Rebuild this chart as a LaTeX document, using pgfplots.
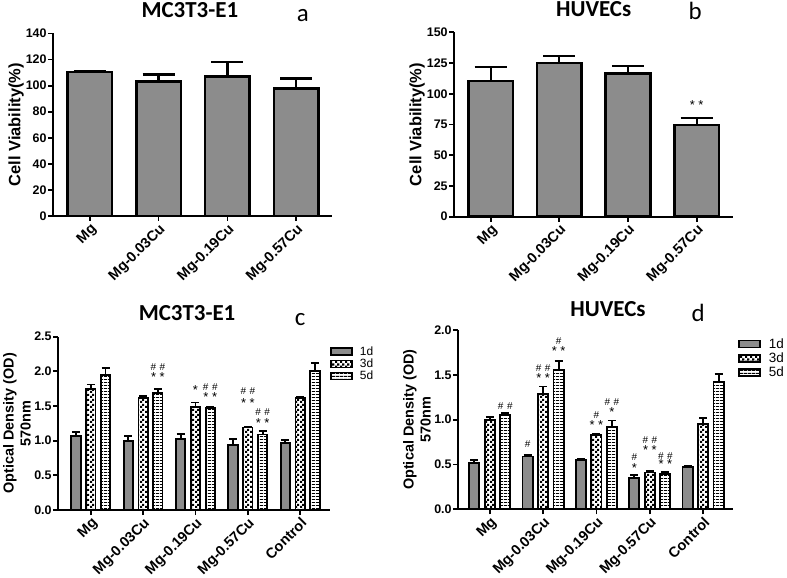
\documentclass[border=0pt]{standalone}
\usepackage{fontspec}
\setmainfont{Liberation Sans}
\newfontfamily\calibri{Carlito}
\usepackage{pgfplots}
\pgfplotsset{compat=1.18}
\usetikzlibrary{patterns}

% 3d: coarse checker, 5d: horizontal stripes
\pgfdeclarepatternformonly{bigcheck}{\pgfpointorigin}{\pgfpoint{5bp}{5bp}}{\pgfpoint{5bp}{5bp}}{
  \pgfpathrectangle{\pgfpointorigin}{\pgfpoint{2.5bp}{2.5bp}}
  \pgfpathrectangle{\pgfpoint{2.5bp}{2.5bp}}{\pgfpoint{2.5bp}{2.5bp}}
  \pgfusepath{fill}}
\pgfdeclarepatternformonly{hstripes}{\pgfpointorigin}{\pgfpoint{4bp}{3bp}}{\pgfpoint{4bp}{3bp}}{
  \pgfpathrectangle{\pgfpointorigin}{\pgfpoint{4bp}{1.3bp}}
  \pgfusepath{fill}}

\newcommand\sst{{\fontsize{13}{13}\selectfont *\hspace{3.5bp}*}}
\newcommand\st{{\fontsize{13}{13}\selectfont *}}
\newcommand\hh{\#\hspace{3.5bp}\#}

\tikzset{
  stat/.style={font=\fontsize{10}{10}\selectfont, inner sep=0pt},
  letter/.style={font=\calibri\fontsize{25}{26}\selectfont, anchor=base, inner sep=0pt},
}

\pgfplotsset{
  panel/.style={
    scale only axis, anchor=south west, clip=false,
    axis lines=left, axis line style={-, line width=2bp},
    tick style={black, line width=1.8bp}, tick align=outside,
    major tick length=5bp, ymin=0,
    /pgf/number format/assume math mode=true,
    yticklabel style={font=\fontsize{12.5}{13}\selectfont\bfseries, inner sep=1.5bp},
    xticklabel style={font=\fontsize{14.5}{15}\selectfont\bfseries,
      rotate=45, anchor=north east, inner sep=1bp},
    ylabel style={font=\fontsize{16.5}{18}\selectfont\bfseries, align=center},
    title style={font=\calibri\bfseries\fontsize{23}{24}\selectfont, anchor=base, inner sep=0pt},
    ybar,
  },
  onebar/.style={fill=black!45, draw=black, line width=2.6bp,
    error bars/.cd, y dir=plus, y explicit,
    error bar style={line width=2.2bp, black},
    error mark options={rotate=90, black, line width=2.2bp, mark size=16bp}},
  grp/.style={ybar=5.5bp, bar width=9.3bp,
    xmin=-0.62, xmax=4.57, xtick={0,1,2,3,4},
    xticklabels={Mg,Mg-0.03Cu,Mg-0.19Cu,Mg-0.57Cu,Control},
    ylabel={Optical Density (OD)\\570nm}, ylabel shift=-1.5bp,
    ylabel style={font=\fontsize{14.5}{17}\selectfont\bfseries},
    legend cell align=left,
    legend style={draw=none, fill=none, anchor=north west, inner sep=0pt,
      font=\fontsize{12}{13}\selectfont, row sep=-2bp,
      /tikz/every odd column/.append style={column sep=5bp}}},
  boxleg/.style={legend image code/.code={
      \draw[##1, line width=1.8bp] (0bp,-3.5bp) rectangle (21bp,3.5bp);}},
  ebar/.style={error bars/.cd, y dir=plus, y explicit,
    error bar style={line width=1.8bp, black},
    error mark options={rotate=90, black, line width=1.8bp, mark size=4bp}},
  d1/.style={fill=black!45, draw=black, line width=1.8bp, boxleg, ebar},
  d3/.style={pattern=bigcheck, draw=black, line width=1.8bp, boxleg, ebar},
  d5/.style={pattern=hstripes, draw=black, line width=1.8bp, boxleg, ebar},
}

\begin{document}
\begin{tikzpicture}
\useasboundingbox (0,0) rectangle (787bp,578bp);

% ---------- a ----------
\begin{axis}[panel, at={(53.3bp,362bp)}, width=278.7bp, height=182.5bp,
  xmin=-0.53, xmax=3.52, ymax=140, ytick={0,20,...,140},
  xtick={0,1,2,3}, xticklabels={Mg,Mg-0.03Cu,Mg-0.19Cu,Mg-0.57Cu},
  bar width=44.5bp, ylabel={Cell Viability(\%)}, ylabel shift=-3bp,
  title={MC3T3-E1}, title style={at={(axis description cs:0.49,1)}, yshift=10bp}]
\addplot[onebar] coordinates {(0,110.5) +- (0,1) (1,103) +- (0,5.5) (2,107) +- (0,11) (3,98) +- (0,7.5)};
\node[letter] at (axis description cs:0.895,1) [yshift=12bp] {a};
\end{axis}

% ---------- b ----------
\begin{axis}[panel, at={(454.3bp,361.3bp)}, width=278.7bp, height=184.4bp,
  xmin=-0.53, xmax=3.53, ymax=150, ytick={0,25,...,150},
  xtick={0,1,2,3}, xticklabels={Mg,Mg-0.03Cu,Mg-0.19Cu,Mg-0.57Cu},
  bar width=44.5bp, ylabel={Cell Viability(\%)}, ylabel shift=-3bp,
  title={HUVECs}, title style={at={(axis description cs:0.5,1)}, yshift=10bp}]
\addplot[onebar] coordinates {(0,110.5) +- (0,11) (1,125) +- (0,6) (2,116.5) +- (0,6) (3,74.5) +- (0,6)};
\node[stat] at (axis cs:3,90.5) {\sst};
\node[letter] at (axis description cs:0.864,1) [yshift=12.3bp] {b};
\end{axis}

% ---------- c ----------
\begin{axis}[panel, grp, at={(58.3bp,68bp)}, width=271.7bp, height=173.3bp,
  ymax=2.5, ytick={0,0.5,...,2.5},
  yticklabel style={/pgf/number format/.cd, fixed, fixed zerofill, precision=1},
  legend style={at={(axis description cs:1.0,0.955)}},
  title={MC3T3-E1}, title style={at={(axis description cs:0.474,1)}, yshift=10bp}]
\addplot[d1] coordinates {(0,1.07) +- (0,0.06) (1,1.0) +- (0,0.07) (2,1.03) +- (0,0.07) (3,0.94) +- (0,0.09) (4,0.97) +- (0,0.04)};
\addplot[d3] coordinates {(0,1.75) +- (0,0.06) (1,1.62) +- (0,0.03) (2,1.49) +- (0,0.06) (3,1.19) +- (0,0.015) (4,1.61) +- (0,0.02)};
\addplot[d5] coordinates {(0,1.95) +- (0,0.1) (1,1.69) +- (0,0.06) (2,1.47) +- (0,0.02) (3,1.09) +- (0,0.05) (4,2.0) +- (0,0.12)};
\legend{1d,3d,5d}
\node[stat] at (axis cs:1,2.06) [xshift=14.8bp] {\hh};
\node[stat] at (axis cs:1,1.92) [xshift=14.8bp] {\sst};
\node[stat] at (axis cs:2,1.73) {\st};
\node[stat] at (axis cs:2,1.78) [xshift=14.8bp] {\hh};
\node[stat] at (axis cs:2,1.63) [xshift=14.8bp] {\sst};
\node[stat] at (axis cs:3,1.72) {\hh};
\node[stat] at (axis cs:3,1.55) {\sst};
\node[stat] at (axis cs:3,1.41) [xshift=14.8bp] {\hh};
\node[stat] at (axis cs:3,1.26) [xshift=14.8bp] {\sst};
\node[letter] at (axis description cs:0.89,1) [yshift=11.7bp] {c};
\end{axis}

% ---------- d ----------
\begin{axis}[panel, grp, at={(458.3bp,68.7bp)}, width=274.7bp, height=179.3bp,
  ybar=5.3bp, bar width=10.2bp, xmin=-0.59, xmax=4.56,
  ymax=2.0, ytick={0,0.5,...,2.0},
  yticklabel style={/pgf/number format/.cd, fixed, fixed zerofill, precision=1},
  legend style={at={(axis description cs:1.018,0.966)},
    font=\fontsize{13.5}{14}\selectfont, row sep=-1bp,
    /tikz/every odd column/.append style={column sep=6bp}},
  title={HUVECs}, title style={at={(axis description cs:0.545,1)}, yshift=7.3bp}]
\addplot[d1] coordinates {(0,0.52) +- (0,0.03) (1,0.59) +- (0,0.02) (2,0.55) +- (0,0.01) (3,0.35) +- (0,0.03) (4,0.47) +- (0,0.015)};
\addplot[d3] coordinates {(0,1.0) +- (0,0.03) (1,1.29) +- (0,0.08) (2,0.83) +- (0,0.01) (3,0.41) +- (0,0.015) (4,0.95) +- (0,0.07)};
\addplot[d5] coordinates {(0,1.05) +- (0,0.02) (1,1.55) +- (0,0.1) (2,0.92) +- (0,0.07) (3,0.39) +- (0,0.03) (4,1.42) +- (0,0.09)};
\legend{1d,3d,5d}
\node[stat] at (axis cs:0,1.15) [xshift=15.5bp] {\hh};
\node[stat] at (axis cs:1,0.73) [xshift=-15.5bp] {\#};
\node[stat] at (axis cs:1,1.57) {\hh};
\node[stat] at (axis cs:1,1.46) {\sst};
\node[stat] at (axis cs:1,1.88) [xshift=15.5bp] {\#};
\node[stat] at (axis cs:1,1.77) [xshift=15.5bp] {\sst};
\node[stat] at (axis cs:2,1.05) {\#};
\node[stat] at (axis cs:2,0.94) {\sst};
\node[stat] at (axis cs:2,1.20) [xshift=15.5bp] {\hh};
\node[stat] at (axis cs:2,1.09) [xshift=15.5bp] {\st};
\node[stat] at (axis cs:3,0.58) [xshift=-15.5bp] {\#};
\node[stat] at (axis cs:3,0.46) [xshift=-15.5bp] {\st};
\node[stat] at (axis cs:3,0.77) {\hh};
\node[stat] at (axis cs:3,0.66) {\sst};
\node[stat] at (axis cs:3,0.59) [xshift=15.5bp] {\hh};
\node[stat] at (axis cs:3,0.50) [xshift=15.5bp] {\sst};
\node[letter] at (axis description cs:0.873,1) [yshift=8.3bp] {d};
\end{axis}
\end{tikzpicture}
\end{document}
